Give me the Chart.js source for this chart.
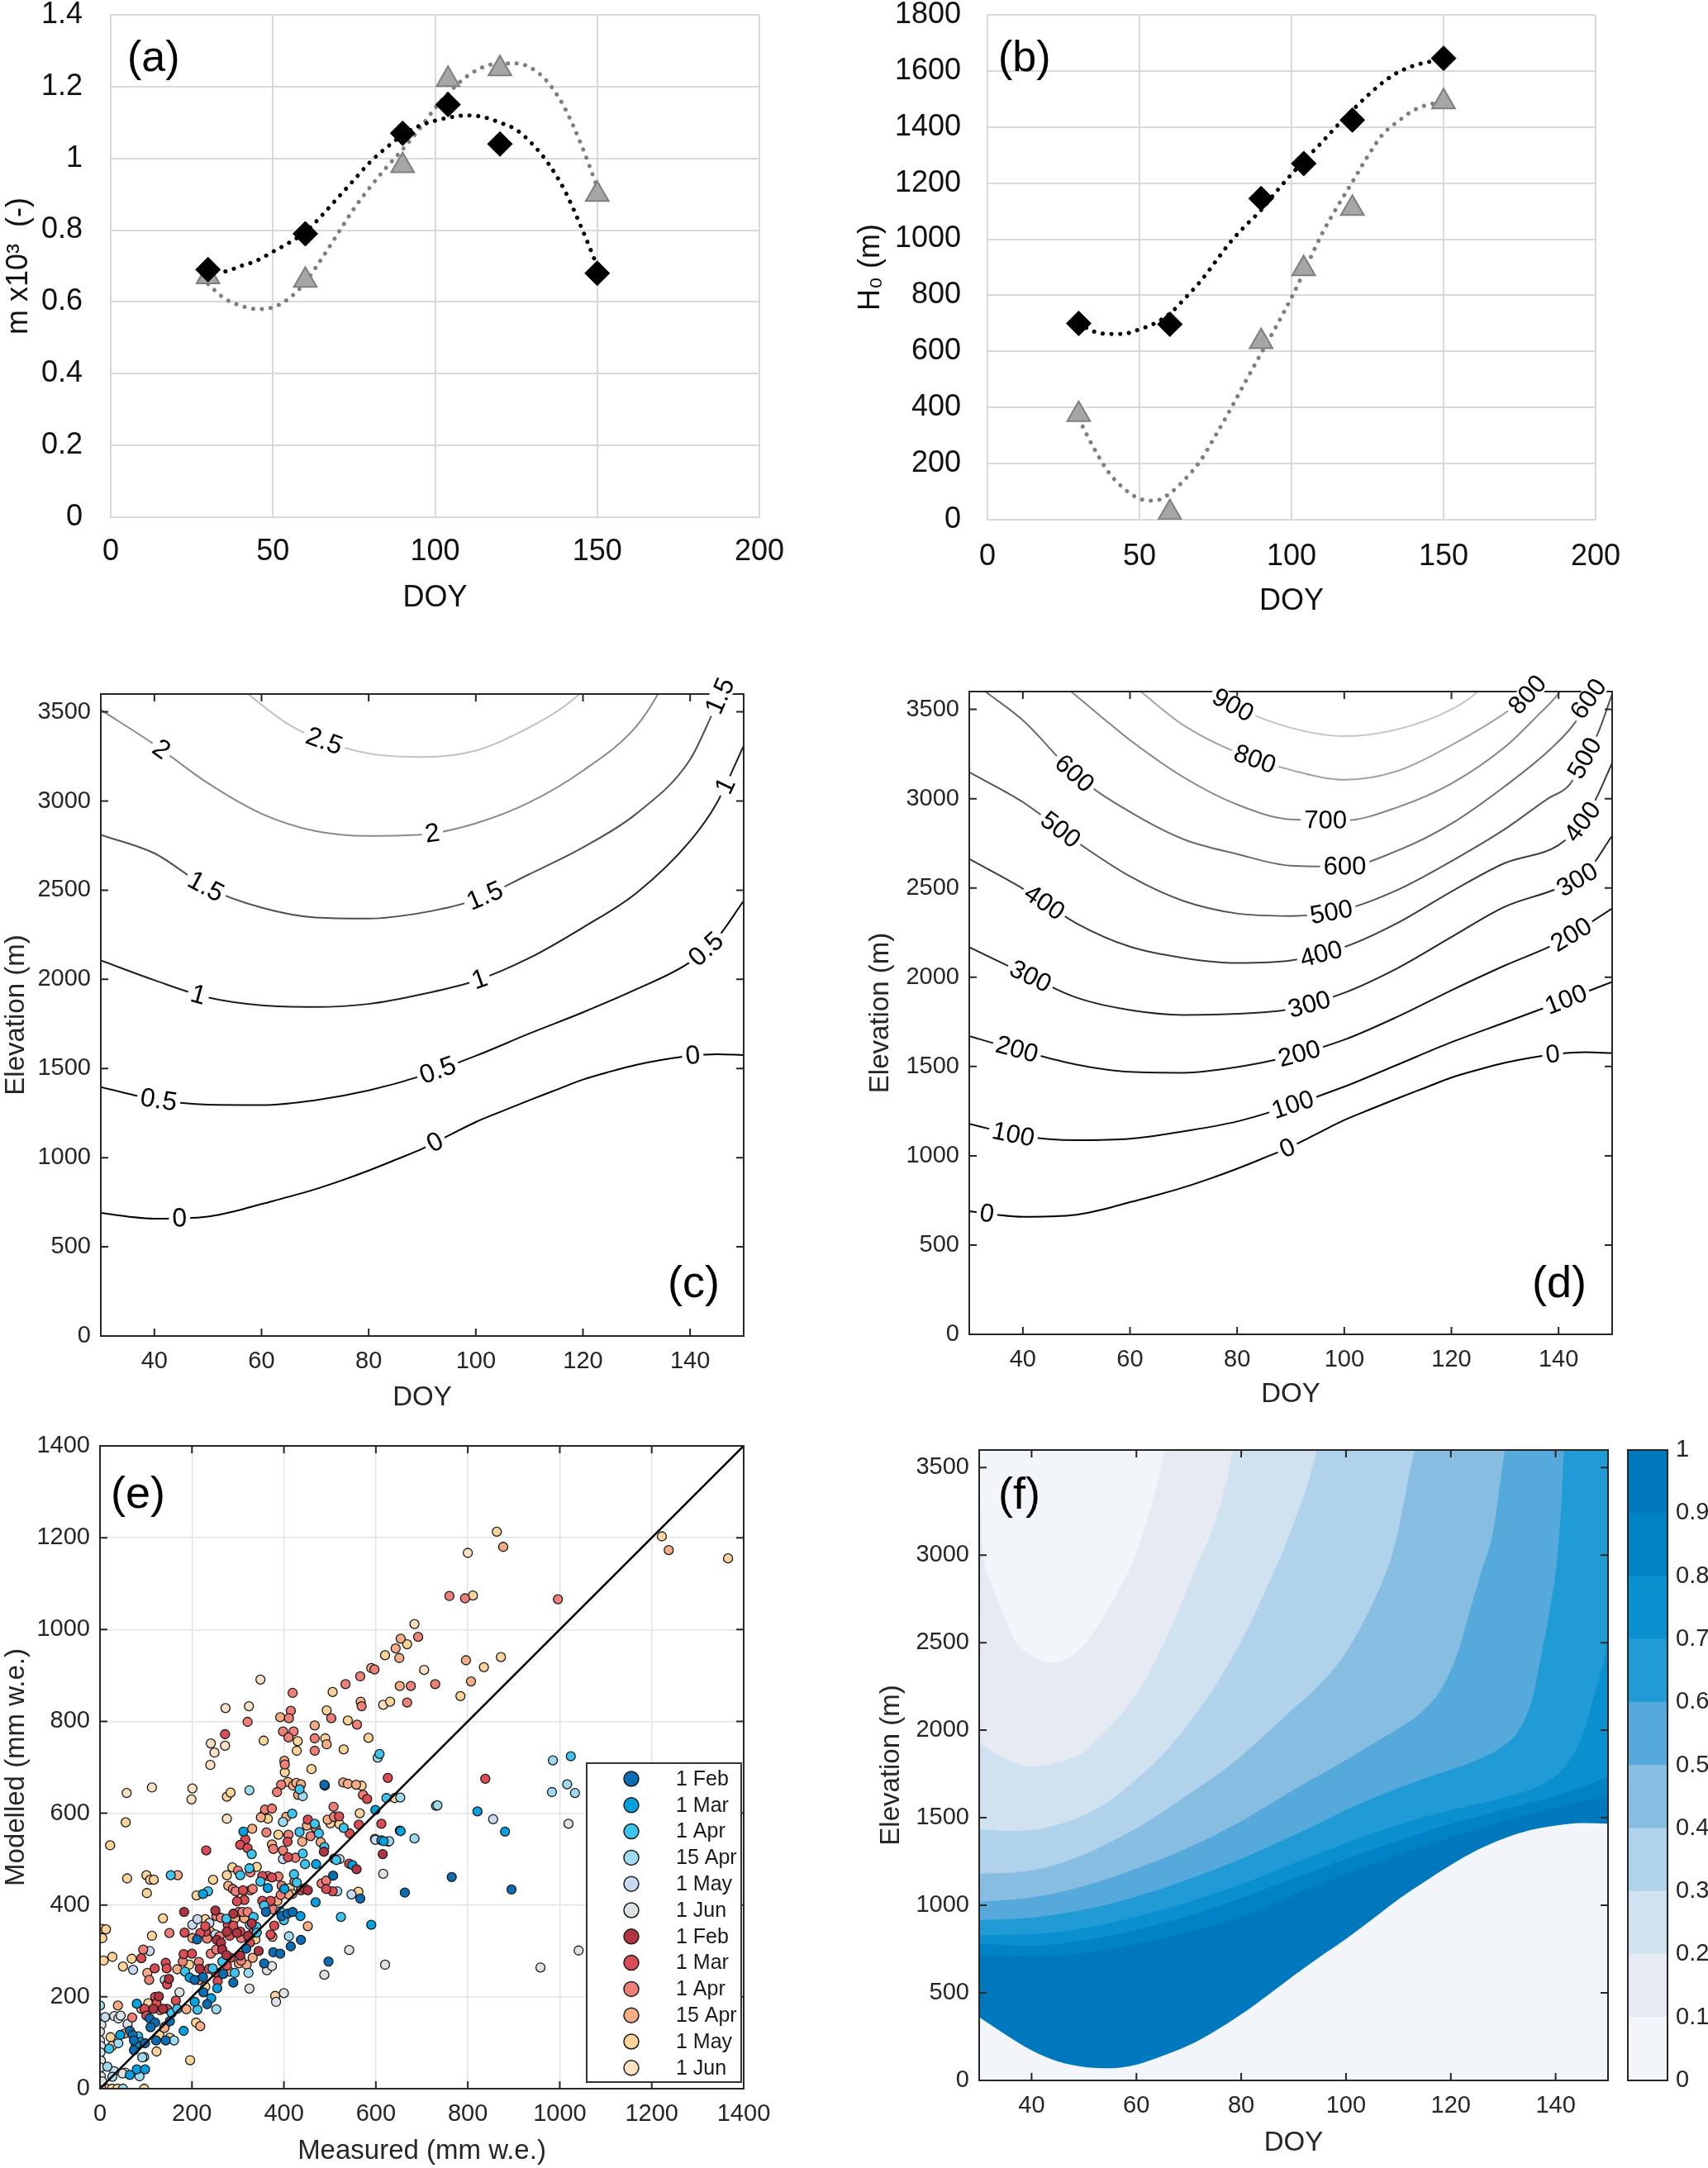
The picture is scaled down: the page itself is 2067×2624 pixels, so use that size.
<!DOCTYPE html>
<html><head><meta charset="utf-8">
<script src="https://cdn.jsdelivr.net/npm/chart.js@4.4.1/dist/chart.umd.min.js"></script>
<style>
html,body{margin:0;padding:0;background:#fff;}
body{width:2067px;height:2624px;position:relative;overflow:hidden;}
canvas{position:absolute;}
</style></head><body>
<canvas id="ca"></canvas><canvas id="cb"></canvas><canvas id="cc"></canvas><canvas id="cd"></canvas>
<canvas id="ce"></canvas><canvas id="cf"></canvas><canvas id="cbar"></canvas>
<script>
// ---------------- DATA ----------------
// (a),(b) measured parameters
const markerDoy = [30, 60, 90, 104, 120, 150];
const mBlack = [0.69, 0.79, 1.07, 1.15, 1.04, 0.68];
const mGrey = [0.67, 0.66, 0.98, 1.22, 1.25, 0.90];
const h0Black = [700, 697, 1145, 1270, 1425, 1645];
const h0Grey = [375, 25, 635, 895, 1110, 1490];
// fitted (dotted) curves
const fitDoy = [30,35,40,45,50,55,60,65,70,75,80,85,90,95,100,105,110,115,120,125,130,135,140,145,150];
const mFitBlack = [0.69,0.685,0.70,0.715,0.74,0.765,0.795,0.84,0.89,0.94,0.99,1.03,1.065,1.09,1.105,1.115,1.12,1.115,1.10,1.08,1.04,0.985,0.91,0.81,0.70];
const mFitGrey = [0.65,0.61,0.59,0.58,0.585,0.61,0.655,0.72,0.79,0.86,0.92,0.975,1.025,1.08,1.14,1.19,1.23,1.255,1.265,1.265,1.25,1.21,1.14,1.04,0.92];
const hFitBlack = [700,671,662,663,679,700,735,790,849,920,991,1050,1104,1170,1232,1290,1346,1405,1460,1512,1559,1595,1618,1632,1637];
const hFitGrey = [360,255,167,110,75,68,94,145,210,300,395,495,593,690,792,905,1019,1115,1204,1295,1374,1420,1459,1480,1488];
const xTicksAB = [0, 50, 100, 150, 200];
const yTicksA = [0, 0.2, 0.4, 0.6, 0.8, 1, 1.2, 1.4];
const yTicksB = [0, 200, 400, 600, 800, 1000, 1200, 1400, 1600, 1800];

// (c) contour lines [DOY, elevation]
const c00 = [[30,690],[35,670],[40,658],[45,660],[50,670],[55,700],[60,740],[65,780],[70,823],[75,873],[80,928],[85,988],[90,1050],[95,1125],[100,1200],[105,1262],[110,1322],[115,1380],[120,1438],[125,1482],[130,1521],[135,1550],[140,1571],[145,1580],[150,1575]];
const c05 = [[30,1396],[40,1327],[50,1297],[60,1295],[70,1322],[80,1377],[90,1460],[100,1571],[110,1696],[120,1815],[130,1945],[140,2097],[145,2230],[150,2440]];
const c10 = [[30,2106],[40,1995],[50,1898],[60,1854],[70,1845],[80,1862],[90,1917],[100,1992],[110,2120],[120,2291],[130,2485],[140,2776],[145,2990],[150,3310]];
const c15 = [[30,2810],[40,2707],[50,2513],[60,2402],[70,2347],[80,2341],[90,2374],[100,2447],[110,2590],[120,2740],[130,2930],[140,3233],[144,3480],[146.5,3650]];
const c20 = [[30,3511],[40,3317],[50,3100],[60,2929],[70,2832],[80,2804],[90,2812],[100,2875],[110,2992],[120,3170],[130,3420],[134,3600],[135,3660]];
const c25 = [[57.5,3600],[60,3540],[65,3430],[70,3355],[80,3267],[90,3247],[100,3283],[110,3413],[116,3520],[119.4,3600],[120.5,3630]];
const cLevels = ['0','0.5','1','1.5','2','2.5'];
const cColors = ['#000000','#0d0d0d','#1f1f1f','#505050','#8a8a8a','#c0c0c0'];
const cLabelPos = [[0,44.7,'0'],[0,92.4,'0'],[0,140.5,'0'],[1,40.8,'0.5'],[1,92.9,'0.5'],[1,143,'0.5'],
  [2,48.2,'1'],[2,100.7,'1'],[2,146.6,'1'],[3,49.6,'1.5'],[3,101.7,'1.5'],[3,145.6,'1.5'],[4,41.3,'2'],[4,91.9,'2'],[5,71.7,'2.5']];

// (d) contour lines [DOY, elevation]
const d000 = c00;
const d100 = [[30,1179],[40,1109],[50,1087],[60,1095],[70,1137],[80,1192],[90,1281],[100,1387],[110,1511],[120,1636],[130,1747],[140,1858],[150,1974]];
const d200 = [[30,1669],[40,1586],[50,1511],[60,1470],[70,1465],[80,1497],[90,1558],[100,1650],[110,1780],[120,1927],[130,2066],[140,2196],[150,2385]];
const d300 = [[30,2168],[40,2024],[50,1886],[60,1816],[70,1789],[80,1795],[90,1822],[100,1913],[110,2052],[120,2225],[130,2395],[140,2500],[145,2580],[150,2792]];
const d400 = [[30,2662],[40,2496],[50,2302],[60,2171],[70,2108],[80,2080],[90,2094],[100,2169],[110,2305],[120,2480],[130,2640],[140,2740],[144.5,2870],[147,3000],[150,3200]];
const d500 = [[30,3148],[40,2981],[50,2759],[60,2565],[70,2427],[80,2357],[90,2343],[100,2379],[110,2490],[120,2650],[130,2830],[138,3000],[142,3077],[144.7,3215],[147.3,3363],[150,3586]];
const d600 = [[33,3600],[40,3439],[50,3130],[60,2926],[70,2773],[80,2690],[90,2625],[100,2620],[110,2710],[120,2860],[130,3070],[138.5,3278],[143.2,3432],[145.2,3540],[147.2,3620]];
const d700 = [[49,3600],[55,3450],[60,3328],[70,3120],[80,2967],[90,2884],[100,2878],[110,2953],[120,3085],[130,3290],[136,3463],[140,3590],[141,3640]];
const d800 = [[62,3600],[70,3411],[80,3258],[90,3161],[100,3106],[110,3156],[120,3300],[130.3,3486],[134,3575],[136,3650]];
const d900 = [[75,3600],[80,3510],[90,3397],[100,3350],[110,3389],[120,3500],[124.9,3600],[126,3640]];
const dColors = ['#000000','#0a0a0a','#141414','#262626','#3d3d3d','#555555','#6b6b6b','#858585','#a3a3a3','#c4c4c4'];
const dLabelPos = [[0,33.3,'0'],[0,89.4,'0'],[0,138.9,'0'],[1,38.2,'100'],[1,90.4,'100'],[1,141.4,'100'],
  [2,38.9,'200'],[2,91.6,'200'],[2,142.4,'200'],[3,41.4,'300'],[3,93.5,'300'],[3,143.5,'300'],
  [4,44,'400'],[4,95.7,'400'],[4,144.5,'400'],[5,47,'500'],[5,97.6,'500'],[5,144.9,'500'],
  [6,49.6,'600'],[6,100.1,'600'],[6,145.6,'600'],[7,96.5,'700'],[8,83.3,'800'],[8,134.2,'800'],[9,79.2,'900']];
const doyTicks = [40, 60, 80, 100, 120, 140];
const elevTicks = [0, 500, 1000, 1500, 2000, 2500, 3000, 3500];

// (e) measured vs modelled [measured, modelled]
const eFebB = [[488,662],[507,464],[566,414],[663,427],[361,385],[395,376],[408,381],[419,385],[437,324],[211,325],[206,237],[224,243],[290,231],[357,273],[377,297],[392,294],[415,310],[497,277],[225,210],[233,184],[108,153],[120,144],[152,147],[65,126],[71,117],[74,105],[74,84],[98,99],[110,134],[122,105],[143,105],[765,461],[895,434],[318,305],[268,250]];
const eMarB = [[599,607],[312,560],[652,562],[612,541],[470,489],[224,424],[401,435],[365,437],[469,406],[590,357],[255,219],[242,197],[206,189],[195,242],[182,126],[80,185],[44,117],[88,102],[78,96],[65,30],[80,42],[98,42],[821,604],[881,560],[654,561],[617,539],[549,487],[436,376]];
const eAprB = [[434,652],[418,599],[434,559],[467,577],[476,556],[488,526],[530,568],[441,512],[446,489],[514,498],[330,511],[305,465],[325,480],[349,451],[154,465],[235,430],[422,467],[428,449],[275,370],[334,374],[340,353],[357,399],[392,386],[400,367],[524,374],[341,340],[266,277],[293,252],[212,172],[156,165],[168,174],[83,114],[20,87],[1024,724],[608,729],[623,633],[185,255],[245,262]];
const eApr15B = [[325,650],[441,637],[653,634],[731,616],[398,581],[684,545],[516,430],[326,357],[411,332],[323,252],[253,173],[96,69],[92,68],[161,105],[0,181],[40,99],[16,48],[86,27],[27,26],[50,0],[985,715],[1016,663],[1033,644],[983,646],[734,617],[629,539],[604,721]];
const eMayB = [[398,500],[547,423],[201,357],[212,369],[238,361],[251,336],[108,300],[72,259],[141,237],[11,156],[31,38],[855,587],[599,542]];
const eJunB = [[363,258],[374,267],[325,218],[488,248],[542,302],[620,270],[383,189],[400,208],[173,210],[31,158],[40,153],[45,159],[60,141],[3,139],[0,124],[0,105],[2,93],[1,79],[2,61],[1,46],[2,27],[5,16],[49,33],[521,500],[1019,577],[1041,301],[958,264],[616,468]];
const eFebR = [[487,516],[558,478],[452,432],[615,511],[183,385],[251,388],[290,381],[276,342],[298,339],[322,333],[254,324],[263,318],[217,261],[150,239],[266,303],[275,291],[128,201],[137,174],[116,174],[330,360],[345,300],[305,290]];
const eMarR = [[489,660],[626,677],[316,543],[408,538],[452,586],[520,593],[543,556],[563,575],[581,631],[612,577],[305,531],[321,524],[231,519],[409,504],[542,490],[311,432],[314,411],[298,408],[353,463],[374,460],[353,409],[371,409],[437,432],[445,436],[506,430],[492,435],[379,355],[371,336],[278,357],[290,355],[282,333],[305,342],[332,339],[326,318],[230,342],[218,339],[229,354],[184,340],[90,284],[119,262],[143,274],[145,262],[146,227],[182,293],[200,294],[237,261],[251,253],[284,285],[276,268],[256,234],[120,200],[146,174],[123,186],[97,174],[101,159],[165,192],[838,675],[272,772]];
const eAprR = [[402,706],[394,662],[385,646],[359,608],[374,610],[410,553],[362,558],[458,550],[469,568],[509,592],[508,614],[572,640],[377,522],[398,519],[425,503],[509,501],[300,475],[327,471],[289,435],[295,430],[327,432],[332,435],[365,463],[388,462],[395,442],[393,422],[423,451],[482,447],[492,453],[253,376],[263,372],[302,385],[310,385],[321,385],[377,390],[307,328],[260,332],[233,327],[151,339],[94,303],[107,237],[180,277],[215,276],[241,294],[253,303],[131,171],[70,155],[307,279],[419,862],[415,823],[411,807],[421,778],[398,778],[410,765],[467,763],[467,736],[503,807],[534,881],[559,793],[566,898],[569,833],[597,913],[668,841],[676,877],[692,984],[729,881],[760,1073],[794,1068],[996,1066],[321,799]];
const eApr15R = [[401,714],[409,668],[420,660],[427,666],[437,663],[431,640],[529,667],[539,664],[557,662],[350,591],[331,566],[405,592],[440,538],[480,537],[450,573],[495,586],[627,538],[374,532],[279,442],[169,465],[410,423],[386,409],[294,371],[314,371],[375,331],[452,354],[240,342],[201,328],[103,252],[168,260],[215,237],[265,255],[281,255],[302,273],[319,270],[332,285],[90,174],[53,120],[140,132],[218,136],[188,173],[39,181],[2,3],[392,809],[493,750],[467,791],[567,843],[590,916],[643,959],[651,938],[654,980],[652,877],[796,933],[807,887],[877,1180],[1237,1173]];
const eMayR = [[402,689],[460,696],[569,660],[641,633],[355,595],[365,588],[388,553],[501,578],[521,576],[565,600],[598,544],[288,482],[341,483],[276,465],[246,455],[59,458],[101,465],[109,455],[117,455],[102,426],[210,421],[308,421],[413,437],[418,424],[562,429],[338,325],[137,371],[229,369],[113,333],[5,348],[13,347],[5,328],[69,283],[27,287],[8,279],[50,266],[194,270],[229,222],[381,202],[105,186],[209,144],[141,135],[152,111],[129,117],[123,81],[196,62],[55,35],[23,112],[26,93],[14,0],[26,0],[38,0],[96,0],[276,636],[284,645],[56,580],[22,530],[430,757],[428,736],[490,763],[493,824],[506,864],[539,802],[530,739],[584,764],[356,758],[631,843],[620,944],[668,968],[784,855],[811,1074],[835,918],[872,940],[863,1213],[1222,1203],[1366,1155]];
const eJunR = [[240,705],[58,644],[113,656],[201,654],[199,630],[276,588],[349,891],[273,829],[324,833],[241,752],[272,747],[249,732],[616,836],[684,1012],[705,912],[800,1167]];
const eLabels = ['1 Feb','1 Mar','1 Apr','15 Apr','1 May','1 Jun','1 Feb','1 Mar','1 Apr','15 Apr','1 May','1 Jun'];
const eColors = ['#0a6db4','#03a0df','#3dc4ee','#9fdbf0','#c6dbf2','#dde2e4','#b03442','#db4d55','#ef8077','#f5ad86','#fbd49a','#fbe1c4'];
const eTicks = [0, 200, 400, 600, 800, 1000, 1200, 1400];

// (f) filled contour boundaries [DOY, elevation] (level boundary 0 .. 0.9)
const fH0 = [[30,361],[35,262],[40,172],[45,108],[50,77],[55,70],[60,90],[65,140],[70,200],[75,282],[80,377],[85,485],[90,598],[95,705],[100,808],[105,920],[110,1035],[115,1135],[120,1230],[125,1315],[130,1380],[135,1428],[140,1456],[145,1470],[150,1466]];
const fB9 = [[30,720],[40,705],[50,730],[60,780],[70,850],[80,935],[90,1060],[100,1180],[110,1290],[120,1390],[130,1480],[140,1560],[150,1626]];
const fB8 = [[30,780],[40,770],[50,800],[60,860],[70,940],[80,1040],[90,1155],[100,1265],[110,1370],[120,1465],[130,1545],[140,1625],[150,1733]];
const fB7 = [[30,830],[40,835],[50,870],[60,935],[70,1020],[80,1120],[90,1240],[100,1355],[110,1460],[120,1545],[130,1615],[138,1700],[142,1800],[145,1960],[147,2160],[149,2380],[150,2520]];
const fB6 = [[30,916],[40,930],[50,975],[60,1050],[70,1150],[80,1265],[90,1400],[95,1470],[100,1545],[105,1610],[110,1670],[115,1725],[120,1775],[125,1830],[130,1910],[133,2000],[135.7,2196],[137.3,2432],[138.8,2668],[140.3,2982],[141.1,3296],[141.6,3600],[142,3700]];
const fB5 = [[30,1020],[40,1045],[50,1110],[60,1210],[70,1330],[80,1480],[85,1570],[90,1660],[95,1745],[100,1830],[105,1920],[110,2010],[114.3,2100],[118,2228],[121.2,2432],[123.5,2668],[125.8,2903],[128.1,3139],[129.6,3453],[130.3,3600],[131,3700]];
const fB4 = [[30,1180],[35,1185],[40,1200],[45,1235],[50,1290],[55,1360],[60,1440],[65.2,1537],[70.6,1647],[76,1757],[80.6,1867],[85.2,1992],[89.8,2118],[94.4,2244],[99,2401],[102.8,2589],[106.6,2825],[108.9,3013],[110.5,3217],[112,3453],[113.1,3600],[114,3700]];
const fB3 = [[30,1435],[35,1425],[40,1430],[45,1460],[50,1515],[55,1600],[60,1720],[65,1860],[70,2040],[75,2250],[80,2510],[85,2820],[90,3180],[94.4,3600],[95,3700]];
const fB2 = [[30,1930],[33,1870],[36,1825],[40,1792],[45,1815],[50,1875],[53,1960],[56,2055],[59,2165],[62,2306],[65,2479],[68,2683],[71,2903],[74.4,3139],[76.7,3359],[78.4,3600],[79,3700]];
const fB1 = [[30,3600],[30.4,3139],[32.3,2840],[34.6,2668],[36.9,2511],[40,2425],[43.8,2385],[48.4,2440],[52.2,2573],[56,2762],[59.1,2950],[61.4,3139],[63.7,3374],[65.4,3600],[66,3700]];
// colours of bands 0-0.1 ... 0.9-1
const fColors = ['#f2f5f9','#e6ebf3','#d0e1ef','#b0d2eb','#88bde2','#56aadb','#219bd6','#0a8fcf','#0082c6','#0078be'];
const barTicks = [0,0.1,0.2,0.3,0.4,0.5,0.6,0.7,0.8,0.9,1];

// ---------------- HELPERS ----------------
const FONT = "'Liberation Sans', Arial, Helvetica, sans-serif";
Chart.defaults.font.family = FONT;
Chart.defaults.color = '#1a1a1a';
Chart.defaults.animation = false;

function place(id, b){ const c=document.getElementById(id); c.width=b.w; c.height=b.h;
  c.style.left=b.x+'px'; c.style.top=b.y+'px'; c.style.width=b.w+'px'; c.style.height=b.h+'px'; return c; }
const zip = (xs, ys) => xs.map((x,i)=>({x, y:ys[i]}));
const pts = arr => arr.map(p=>({x:p[0], y:p[1]}));
const setTicks = vals => s => { s.ticks = vals.map(v=>({value:v})); };
const noPad = s => { s.paddingTop=0; s.paddingBottom=0; s.paddingLeft=0; s.paddingRight=0; };
const fitW = w => s => { s.width = w; noPad(s); };
const fitH = h => s => { s.height = h; noPad(s); };
const lay = (b,p) => ({padding:{left:0, top:p.t-b.y, right:b.x+b.w-p.r, bottom:0}});

const panelLabel = { id:'plabel', afterDraw(chart, a, o){ if(!o || !o.text) return; const ctx=chart.ctx; ctx.save();
  ctx.font = `${o.size}px ${FONT}`; ctx.fillStyle='#000'; ctx.textBaseline='middle'; ctx.textAlign='left';
  ctx.fillText(o.text, o.x, o.y); ctx.restore(); } };

const bgPlugin = { id:'bgfill', beforeDatasetsDraw(chart, a, o){ if(!o || !o.color) return; const {ctx, chartArea:c}=chart;
  ctx.save(); ctx.fillStyle=o.color; ctx.fillRect(c.left,c.top,c.right-c.left,c.bottom-c.top); ctx.restore(); } };

const boxTicks = { id:'boxTicks', afterDatasetsDraw(chart, a, o){ if(!o || !o.on) return; const {ctx, chartArea:c}=chart;
  ctx.save(); ctx.strokeStyle=o.color; ctx.lineWidth=o.width; ctx.beginPath();
  if (o.len>0){
    for (const t of chart.scales.x.ticks){ const p=chart.scales.x.getPixelForValue(t.value);
      ctx.moveTo(p,c.bottom); ctx.lineTo(p,c.bottom-o.len); ctx.moveTo(p,c.top); ctx.lineTo(p,c.top+o.len); }
    for (const t of chart.scales.y.ticks){ const p=chart.scales.y.getPixelForValue(t.value);
      ctx.moveTo(c.left,p); ctx.lineTo(c.left+o.len,p); ctx.moveTo(c.right,p); ctx.lineTo(c.right-o.len,p); }
  }
  ctx.stroke(); ctx.strokeRect(c.left,c.top,c.right-c.left,c.bottom-c.top); ctx.restore(); } };

function curveAt(meta, px){
  const d = meta.data;
  for (let i=0;i<d.length-1;i++){
    const a=d[i], b=d[i+1];
    if (px>=a.x && px<=b.x){
      const c1x=a.cp2x??a.x, c1y=a.cp2y??a.y, c2x=b.cp1x??b.x, c2y=b.cp1y??b.y;
      const bx = t => (1-t)**3*a.x + 3*(1-t)**2*t*c1x + 3*(1-t)*t*t*c2x + t**3*b.x;
      let lo=0, hi=1; for(let k=0;k<40;k++){ const m=(lo+hi)/2; if (bx(m)<px) lo=m; else hi=m; }
      const t=(lo+hi)/2;
      const y=(1-t)**3*a.y + 3*(1-t)**2*t*c1y + 3*(1-t)*t*t*c2y + t**3*b.y;
      const dx=3*(1-t)**2*(c1x-a.x)+6*(1-t)*t*(c2x-c1x)+3*t*t*(b.x-c2x);
      const dy=3*(1-t)**2*(c1y-a.y)+6*(1-t)*t*(c2y-c1y)+3*t*t*(b.y-c2y);
      return {x:px, y, ang:Math.atan2(dy,dx)};
    }
  }
  return null;
}
const contourLabels = { id:'clabels', afterDatasetsDraw(chart, a, o){ if(!o || !o.items) return; const ctx=chart.ctx;
  ctx.save(); ctx.font=`${o.size}px ${FONT}`; ctx.textAlign='center'; ctx.textBaseline='middle';
  for (const [ds, doy, txt] of o.items){
    const meta = chart.getDatasetMeta(ds); const px = chart.scales.x.getPixelForValue(doy);
    const p = curveAt(meta, px); if(!p) continue;
    let ang = p.ang; if (ang > Math.PI/2) ang -= Math.PI; if (ang < -Math.PI/2) ang += Math.PI;
    const w = ctx.measureText(txt).width + 8, h = o.size*0.8;
    ctx.save(); ctx.translate(p.x, p.y); ctx.rotate(ang);
    ctx.fillStyle='#fff'; ctx.fillRect(-w/2,-h/2,w,h);
    ctx.fillStyle='#000'; ctx.fillText(txt, 0, 1); ctx.restore();
  }
  ctx.restore(); } };

const eLegend = { id:'elegend', afterDraw(chart, a, o){ if(!o || !o.labels) return; const ctx=chart.ctx; ctx.save();
  ctx.fillStyle='#fff'; ctx.fillRect(o.x,o.y,o.w,o.h); ctx.strokeStyle='#333'; ctx.lineWidth=2; ctx.strokeRect(o.x,o.y,o.w,o.h);
  ctx.font=`${o.size}px ${FONT}`; ctx.textBaseline='middle'; ctx.textAlign='left';
  o.labels.forEach((lab,i)=>{ const cy=o.y0+i*o.dy; ctx.beginPath(); ctx.arc(o.mx,cy,o.r,0,2*Math.PI);
    ctx.fillStyle=o.colors[i]; ctx.fill(); ctx.lineWidth=1.5; ctx.strokeStyle='#1a1a1a'; ctx.stroke();
    ctx.fillStyle='#1a1a1a'; ctx.fillText(lab,o.tx,cy+1); });
  ctx.restore(); } };

const base = { responsive:false, devicePixelRatio:1, animation:false, events:[] };

// Excel-like scales for (a),(b)
function excelScales(box, plot, xt, yt, xTitle, yTitle, xtPad, ytPad, yTitlePad, xTitlePad){
  const grid = {color:'#d9d9d9', lineWidth:2, drawTicks:false};
  const border = {display:true, color:'#d9d9d9', width:2};
  return {
    x:{type:'linear', min:xt[0], max:xt[xt.length-1], afterBuildTicks:setTicks(xt), afterFit:fitH(box.y+box.h-plot.b),
       grid, border, ticks:{font:{size:36}, color:'#111', padding:xtPad, callback:v=>String(v), maxRotation:0},
       title:{display:true, text:xTitle, font:{size:36}, color:'#111', padding:{top:0,bottom:xTitlePad}}},
    y:{type:'linear', min:yt[0], max:yt[yt.length-1], afterBuildTicks:setTicks(yt), afterFit:fitW(plot.l-box.x),
       grid, border, ticks:{font:{size:36}, color:'#111', padding:ytPad, callback:v=>String(v)},
       title:{display:true, text:yTitle, font:{size:36}, color:'#111', padding:{top:yTitlePad,bottom:0}}}
  };
}
// MATLAB-like scales
function matScales(box, plot, xr, xt, yr, yt, xTitle, yTitle, yTitlePad, xTitlePad, grid){
  const g = grid ? {display:true, color:'#e4e4e4', lineWidth:1.5, drawTicks:false} : {display:false, drawTicks:false};
  return {
    x:{type:'linear', min:xr[0], max:xr[1], afterBuildTicks:setTicks(xt), afterFit:fitH(box.y+box.h-plot.b),
       grid:g, border:{display:false}, ticks:{font:{size:29}, color:'#262626', padding:14, callback:v=>String(v), maxRotation:0},
       title:{display:true, text:xTitle, font:{size:33}, color:'#262626', padding:{top:0,bottom:xTitlePad}}},
    y:{type:'linear', min:yr[0], max:yr[1], afterBuildTicks:setTicks(yt), afterFit:fitW(plot.l-box.x),
       grid:g, border:{display:false}, ticks:{font:{size:29}, color:'#262626', padding:12, callback:v=>String(v)},
       title:{display:true, text:yTitle, font:{size:33}, color:'#262626', padding:{top:yTitlePad,bottom:0}}}
  };
}
const dotted = (data, color, ord) => ({data, borderColor:color, borderWidth:5, borderDash:[0.1,10.5], borderCapStyle:'round',
  pointRadius:0, cubicInterpolationMode:'monotone', fill:false, order:ord});

// ---------------- (a) ----------------
const boxA={x:0,y:0,w:1000,h:770}, plotA={l:134,r:919,t:14,b:626};
new Chart(place('ca',boxA), { type:'line',
  data:{datasets:[
    {data:zip(markerDoy,mBlack), showLine:false, pointStyle:'rectRot', pointRadius:15, backgroundColor:'#000', borderColor:'#000', borderWidth:1, order:1},
    {data:zip(markerDoy,mGrey), showLine:false, pointStyle:'triangle', pointRadius:16, backgroundColor:'#a6a6a6', borderColor:'#7f7f7f', borderWidth:2, order:2},
    dotted(zip(fitDoy,mFitBlack),'#000',3), dotted(zip(fitDoy,mFitGrey),'#7f7f7f',4)]},
  options:{...base, layout:lay(boxA,plotA),
    scales:excelScales(boxA,plotA,xTicksAB,yTicksA,'DOY','m x10³  (-)',20,34,1.4,24.4),
    plugins:{legend:{display:false}, tooltip:{enabled:false}, plabel:{text:'(a)', x:154, y:72, size:52}}},
  plugins:[panelLabel]});

// ---------------- (b) ----------------
const boxB={x:1000,y:0,w:1067,h:770}, plotB={l:1195,r:1931,t:14,b:629};
new Chart(place('cb',boxB), { type:'line',
  data:{datasets:[
    {data:zip(markerDoy,h0Black), showLine:false, pointStyle:'rectRot', pointRadius:15, backgroundColor:'#000', borderColor:'#000', borderWidth:1, order:1},
    {data:zip(markerDoy,h0Grey), showLine:false, pointStyle:'triangle', pointRadius:16, backgroundColor:'#a6a6a6', borderColor:'#7f7f7f', borderWidth:2, order:2},
    dotted(zip(fitDoy,hFitBlack),'#000',3), dotted(zip(fitDoy,hFitGrey),'#7f7f7f',4)]},
  options:{...base, layout:lay(boxB,plotB),
    scales:excelScales(boxB,plotB,xTicksAB,yTicksB,'DOY','H₀ (m)',23,32,32.4,20.4),
    plugins:{legend:{display:false}, tooltip:{enabled:false}, plabel:{text:'(b)', x:1208-boxB.x, y:72, size:52}}},
  plugins:[panelLabel]});

// ---------------- (c) ----------------
const boxC={x:0,y:790,w:1020,h:935}, plotC={l:122,r:900,t:840,b:1617};
const cLines=[c00,c05,c10,c15,c20,c25];
new Chart(place('cc',boxC), { type:'line',
  data:{datasets:cLines.map((L,i)=>({label:cLevels[i], data:pts(L), borderColor:cColors[i], borderWidth:2, pointRadius:0, cubicInterpolationMode:'monotone', fill:false}))},
  options:{...base, layout:lay(boxC,plotC),
    scales:matScales(boxC,plotC,[30,150],doyTicks,[0,3600],elevTicks,'DOY','Elevation (m)',0,13.2,false),
    plugins:{legend:{display:false}, tooltip:{enabled:false}, boxTicks:{on:true,len:9,color:'#262626',width:2},
      clabels:{items:cLabelPos, size:32}, plabel:{text:'(c)', x:808, y:1555-boxC.y, size:54}}},
  plugins:[boxTicks, contourLabels, panelLabel]});

// ---------------- (d) ----------------
const boxD={x:1020,y:790,w:1047,h:935}, plotD={l:1173,r:1951,t:837,b:1615};
const dLines=[d000,d100,d200,d300,d400,d500,d600,d700,d800,d900];
new Chart(place('cd',boxD), { type:'line',
  data:{datasets:dLines.map((L,i)=>({label:String(i*100), data:pts(L), borderColor:dColors[i], borderWidth:2, pointRadius:0, cubicInterpolationMode:'monotone', fill:false}))},
  options:{...base, layout:lay(boxD,plotD),
    scales:matScales(boxD,plotD,[30,150],doyTicks,[0,3600],elevTicks,'DOY','Elevation (m)',26.2,17.2,false),
    plugins:{legend:{display:false}, tooltip:{enabled:false}, boxTicks:{on:true,len:9,color:'#262626',width:2},
      clabels:{items:dLabelPos, size:31}, plabel:{text:'(d)', x:1854-boxD.x, y:1555-boxD.y, size:54}}},
  plugins:[boxTicks, contourLabels, panelLabel]});

// ---------------- (e) ----------------
const boxE={x:0,y:1730,w:1020,h:894}, plotE={l:121,r:900,t:1750,b:2528};
const eGroups=[eFebB,eMarB,eAprB,eApr15B,eMayB,eJunB,eFebR,eMarR,eAprR,eApr15R,eMayR,eJunR];
const eOrder=[3,4,5,8,9,10,2,6,7,11,12,13];
const eSets = eGroups.map((g,i)=>({type:'scatter', label:eLabels[i], data:pts(g), backgroundColor:eColors[i], borderColor:'#1a1a1a',
  borderWidth:1.3, pointRadius:5.5, showLine:false, order:eOrder[i]}));
eSets.push({type:'line', data:[{x:0,y:0},{x:1400,y:1400}], borderColor:'#000', borderWidth:2.6, pointRadius:0, fill:false, order:0});
new Chart(place('ce',boxE), { type:'scatter', data:{datasets:eSets},
  options:{...base, layout:lay(boxE,plotE),
    scales:matScales(boxE,plotE,[0,1400],eTicks,[0,1400],eTicks,'Measured (mm w.e.)','Modelled (mm w.e.)',0,0.2,true),
    plugins:{legend:{display:false}, tooltip:{enabled:false}, boxTicks:{on:true,len:9,color:'#262626',width:2},
      plabel:{text:'(e)', x:134, y:1810-boxE.y, size:54},
      elegend:{labels:eLabels, colors:eColors, x:710, y:2134-boxE.y, w:187, h:386, y0:2153-boxE.y, dy:31.8, mx:764, r:9, tx:818, size:25}}},
  plugins:[boxTicks, panelLabel, eLegend]});

// ---------------- (f) ----------------
const boxF={x:1020,y:1730,w:940,h:894}, plotF={l:1185,r:1946,t:1755,b:2518};
const fBounds=[fH0,fB9,fB8,fB7,fB6,fB5,fB4,fB3,fB2,fB1];
const fSets = fBounds.map((L,i)=>({data:pts(L), fill:'end', backgroundColor:fColors[9-i], borderColor:'rgba(0,0,0,0)', borderWidth:0,
  pointRadius:0, cubicInterpolationMode:'monotone', order:10-i}));
new Chart(place('cf',boxF), { type:'line', data:{datasets:fSets},
  options:{...base, layout:lay(boxF,plotF),
    scales:matScales(boxF,plotF,[30,150],doyTicks,[0,3600],elevTicks,'DOY','Elevation (m)',39.2,10.2,false),
    plugins:{legend:{display:false}, tooltip:{enabled:false}, filler:{propagate:false}, bgfill:{color:fColors[0]},
      boxTicks:{on:true,len:9,color:'#262626',width:2}, plabel:{text:'(f)', x:1208-boxF.x, y:1811-boxF.y, size:54}}},
  plugins:[bgPlugin, boxTicks, panelLabel]});

// colour bar
const boxBar={x:1960,y:1730,w:107,h:894}, plotBar={l:1970,r:2018,t:1755,b:2518};
new Chart(place('cbar',boxBar), { type:'bar',
  data:{labels:[''], datasets:fColors.map((c,i)=>({data:[0.1], backgroundColor:c, borderWidth:0, barPercentage:1, categoryPercentage:1}))},
  options:{...base, layout:{padding:{left:plotBar.l-boxBar.x, top:plotBar.t-boxBar.y, right:0, bottom:boxBar.y+boxBar.h-plotBar.b}},
    scales:{x:{display:false, stacked:true},
      y:{position:'right', stacked:true, min:0, max:1, afterBuildTicks:setTicks(barTicks), afterFit:fitW(boxBar.x+boxBar.w-plotBar.r),
         grid:{display:false, drawTicks:false}, border:{display:false},
         ticks:{font:{size:29}, color:'#262626', padding:10, callback:v=>String(Math.round(v*10)/10)}}},
    plugins:{legend:{display:false}, tooltip:{enabled:false}, boxTicks:{on:true,len:0,color:'#262626',width:2}}},
  plugins:[boxTicks]});
</script>
</body></html>
